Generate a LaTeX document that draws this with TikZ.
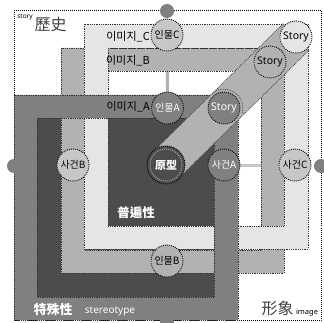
\documentclass[tikz,border=0pt]{standalone}
\usepackage{fontspec}
\setmainfont{Noto Sans}
\newfontfamily\kr{Noto Sans CJK KR}
\newfontfamily\tc{Noto Sans CJK TC}
\usetikzlibrary{calc}
\definecolor{cA}{gray}{0.5}
\definecolor{cB}{gray}{0.70}
\definecolor{cC}{gray}{0.90}
\definecolor{cD}{gray}{0.30}
\definecolor{cE}{gray}{0.78}
\pgfdeclarelayer{bg}
\pgfsetlayers{bg,main}
\tikzset{
 dots/.style={draw=black,line width=0.9pt,dash pattern=on 0.9pt off 1.1pt},
 banddots/.style={draw=black!80,line width=0.7pt,dash pattern=on 0.8pt off 1pt},
 bandshape/.style={banddots,even odd rule},
 circ/.style={circle,minimum size=32pt,inner sep=0pt,dots,font=\kr\fontsize{10}{10}\selectfont},
 ring/.style={circle,minimum size=38pt,inner sep=0pt,dots},
 port/.style={circle,minimum size=14pt,inner sep=0pt,fill=cA},
 link/.style={line width=3pt},
 lab/.style={font=\kr\fontsize{11}{11}\selectfont,inner sep=0pt},
}
\begin{document}
\begin{tikzpicture}[x=1pt,y=-1pt]
\useasboundingbox (0,0) rectangle (323,323);
% circles
\node[ring,fill=cD] (ringO) at (166,165) {};
\node[circ,fill=cD,text=white,draw=white!70!black,font=\tc\bfseries\fontsize{11}{11}\selectfont] (orig) at (166,165) {原型};
\node[circ,fill=cC,font=\fontsize{10.5}{10.5}\selectfont] (st1) at (296,37) {Story};
\node[circ,fill=cB,font=\fontsize{10.5}{10.5}\selectfont] (st2) at (270,62) {Story};
\node[circ,fill=cA,text=white,font=\bfseries\fontsize{10.5}{10.5}\selectfont] (st3) at (224,108) {Story};
\node[circ,fill=cE] (inC) at (167,35) {인물C};
\node[circ,fill=cA,text=white] (inA) at (167.5,108) {인물A};
\node[circ,fill=cB] (inB) at (167,261) {인물B};
\node[circ,fill=cA,text=white] (saA) at (224,165) {사건A};
\node[circ,fill=cE] (saB) at (73,165) {사건B};
\node[circ,fill=cE] (saC) at (295,165) {사건C};
\node[port] (pT) at (167,11) {};
\node[port] (pL) at (14,166) {};
\node[port] (pR) at (321,166) {};
\node[port] (pB) at (167,322) {};
% labels
\node[lab,anchor=east] (lC) at (150,37) {이미지\_C};
\node[lab,anchor=east] (lB) at (150,61) {이미지\_B};
\node[lab,anchor=east] (lA) at (150,107) {이미지\_A};
\node[inner sep=0pt,font=\fontsize{6.5}{6.5}\selectfont] (tStory) at (25,17.5) {story};
\node[inner sep=0pt,font=\tc\fontsize{16}{16}\selectfont,text=black!75] (tHist) at (50.5,24) {歷史};
\node[inner sep=0pt,font=\tc\fontsize{16}{16}\selectfont,text=black!75] (tImg) at (277.5,308) {形象};
\node[inner sep=0pt,font=\fontsize{7.5}{7.5}\selectfont] (tImage) at (307,313) {image};
\node[inner sep=0pt,text=white,font=\tc\bfseries\fontsize{12.5}{12.5}\selectfont] (tUni) at (136,213) {普遍性};
\node[inner sep=0pt,text=white,font=\tc\bfseries\fontsize{13}{13}\selectfont] (tSpe) at (53,310) {特殊性};
\node[inner sep=0pt,text=white,font=\fontsize{10}{10}\selectfont] (tSte) at (110,311) {stereotype};
\begin{pgfonlayer}{bg}
\fill[white] (0,0) rectangle (323,323);
\draw[draw=black,line width=1pt,dash pattern=on 1pt off 1pt] (14,10.5) rectangle (321,320);
\draw[link,cB] (inC) -- (inA);
\draw[link,cE] (saA) -- (saC);
\path[banddots,fill=cD] (37,118) rectangle (214,297);
\path[bandshape,fill=cB] (61,48) rectangle (284,273) (84,71) rectangle (261,250);
\path[bandshape,fill=cC] (84,24) rectangle (308,249) (108,48) rectangle (284,226);
\path[bandshape,fill=cA] (14,95) rectangle (238,320) (37,118) rectangle (214,297);
\path[banddots,fill=cB]
  ($(orig)!18.5pt!90:(st1)$) -- ($(st1)!18.5pt!-90:(orig)$) --
  ($(st1)!18.5pt!90:(orig)$) -- ($(orig)!18.5pt!-90:(st1)$) -- cycle;
\draw[banddots] (224,108) ++(-15:18.8pt) arc[start angle=-15,end angle=130,radius=18.8pt];
\end{pgfonlayer}
\end{tikzpicture}
\end{document}
